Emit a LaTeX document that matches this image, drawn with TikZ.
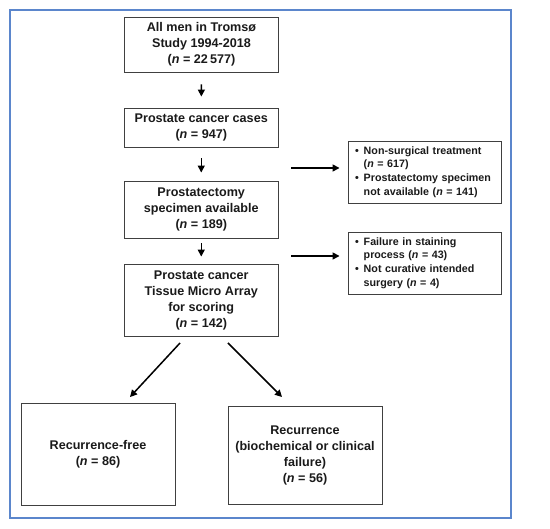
\documentclass[tikz,border=0pt]{standalone}
\usepackage{fontspec}
\setmainfont{Liberation Sans}
\usetikzlibrary{arrows.meta}
\definecolor{framecol}{HTML}{5B86CC}
\definecolor{boxcol}{HTML}{404040}
\definecolor{txtcol}{HTML}{1A1A1A}
\tikzset{
  mainbox/.style={draw=boxcol, line width=0.9pt, fill=white, align=center, inner sep=0pt,
    font=\fontsize{12.6}{16}\selectfont\bfseries, text=txtcol},
  sidebox/.style={draw=boxcol, line width=0.9pt, fill=white, inner xsep=7pt, inner ysep=0pt,
    text width=139pt, align=left, anchor=center,
    font=\fontsize{10.7}{13.8}\selectfont\bfseries, text=txtcol},
  flowarrow/.style={draw=black, line width=1.5pt, -{Triangle[length=7pt,width=7pt]}},
}
\newcommand{\nn}{\textit{n}}
\begin{document}
\begin{tikzpicture}[x=1pt,y=-1pt]
\useasboundingbox (0,0) rectangle (550,529);
\draw[framecol, line width=1.6pt] (10,10) rectangle (511,518);

\node[mainbox, minimum width=153.5pt, minimum height=55pt] (b1) at (201.5,44.5)
  {All men in Troms\o\\Study 1994-2018\\(\nn{} = 22\,577)};
\node[mainbox, minimum width=153.5pt, minimum height=39pt] (b2) at (201.25,127.5)
  {Prostate cancer cases\\(\nn{} = 947)};
\node[mainbox, minimum width=153.5pt, minimum height=57pt] (b3) at (201.25,209.5)
  {Prostatectomy\\specimen available\\(\nn{} = 189)};
\node[mainbox, minimum width=153.5pt, minimum height=72pt] (b4) at (201.25,300)
  {Prostate cancer\\Tissue Micro Array\\for scoring\\(\nn{} = 142)};

\node[mainbox, minimum width=154pt, minimum height=102pt] (bl) at (98,454)
  {Recurrence-free\\(\nn{} = 86)};
\node[mainbox, minimum width=154pt, minimum height=98pt] (br) at (305,455)
  {Recurrence\\(biochemical or clinical\\failure)\\(\nn{} = 56)};

\node[sidebox, minimum height=62pt] (ra) at (424.5,172)
  {\begin{tabular}{@{}l@{\hspace{5pt}}l@{}}
   \textbullet & Non-surgical treatment\\
   & (\nn{} = 617)\\
   \textbullet & Prostatectomy specimen\\
   & not available (\nn{} = 141)
   \end{tabular}};
\node[sidebox, minimum height=62pt] (rb) at (424.5,263)
  {\begin{tabular}{@{}l@{\hspace{5pt}}l@{}}
   \textbullet & Failure in staining\\
   & process (\nn{} = 43)\\
   \textbullet & Not curative intended\\
   & surgery (\nn{} = 4)
   \end{tabular}};

% vertical arrows
\draw[flowarrow, shorten <=12pt, shorten >=11pt] (b1.south) -- (b2.north);
\draw[flowarrow, shorten <=11pt, shorten >=8pt] (b2.south) -- (b3.north);
\draw[flowarrow, shorten <=5pt, shorten >=7pt] (b3.south) -- (b4.north);

% side arrows
\coordinate (sa) at (291,168);
\coordinate (sb) at (291,256);
\draw[flowarrow] (sa) -- ([xshift=-8pt]sa -| ra.west);
\draw[flowarrow] (sb) -- ([xshift=-8pt]sb -| rb.west);

% diagonal arrows
\coordinate (dl) at (180,343);
\coordinate (dr) at (228,343);
\coordinate (el) at (130,397);
\coordinate (er) at (282,397);
\draw[flowarrow] (dl) -- (el);
\draw[flowarrow] (dr) -- (er);
\end{tikzpicture}
\end{document}
